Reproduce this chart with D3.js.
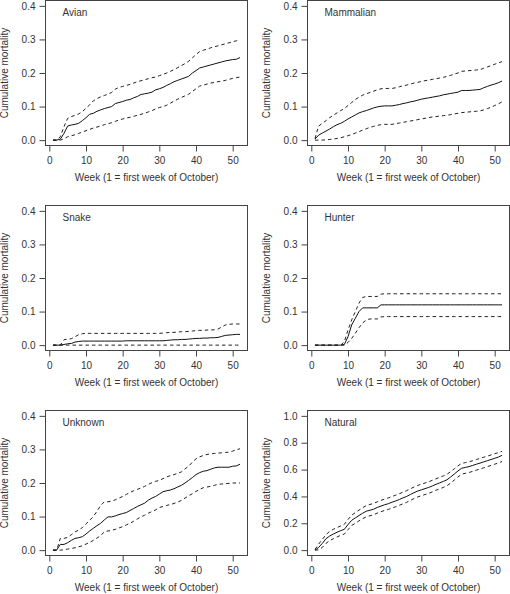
<!DOCTYPE html>
<html><head><meta charset="utf-8">
<script src="https://cdn.jsdelivr.net/npm/d3@7"></script>
<style>body{margin:0;background:#fff}svg{display:block}</style>
</head><body><svg id="c" width="510" height="594"></svg>
<script>
const weeks = d3.range(1, 53);
const xTicks = [0, 10, 20, 30, 40, 50];
const yTicksSmall = [0, 0.1, 0.2, 0.3, 0.4];
const yTicksNatural = [0, 0.2, 0.4, 0.6, 0.8, 1.0];
const panelNames = ["Avian", "Mammalian", "Snake", "Hunter", "Unknown", "Natural"];
const xTitle = "Week (1 = first week of October)";
const yTitle = "Cumulative mortality";

const avianEst = [0,0,0.003,0.02,0.042,0.045,0.047,0.05,0.058,0.067,0.077,0.08,0.086,0.09,0.094,0.097,0.1,0.109,0.112,0.115,0.119,0.121,0.126,0.13,0.136,0.138,0.14,0.143,0.15,0.153,0.157,0.163,0.168,0.174,0.178,0.182,0.186,0.19,0.2,0.207,0.215,0.218,0.221,0.224,0.227,0.23,0.233,0.236,0.238,0.24,0.241,0.246];
const avianHi = [0,0,0.01,0.04,0.065,0.07,0.074,0.078,0.085,0.095,0.105,0.117,0.124,0.129,0.133,0.137,0.142,0.152,0.157,0.16,0.163,0.166,0.17,0.174,0.177,0.18,0.183,0.186,0.188,0.192,0.196,0.2,0.205,0.21,0.216,0.222,0.228,0.235,0.245,0.255,0.264,0.268,0.271,0.275,0.278,0.281,0.284,0.287,0.29,0.293,0.296,0.299];
const avianLo = [0,0,0,0.004,0.01,0.013,0.016,0.02,0.024,0.028,0.032,0.036,0.039,0.042,0.046,0.049,0.052,0.056,0.06,0.063,0.066,0.068,0.071,0.074,0.077,0.08,0.084,0.088,0.093,0.097,0.1,0.104,0.11,0.116,0.122,0.127,0.132,0.137,0.145,0.153,0.161,0.164,0.167,0.17,0.172,0.174,0.176,0.178,0.181,0.184,0.186,0.188];

const mammalEst = [0.003,0.015,0.021,0.027,0.033,0.04,0.046,0.05,0.056,0.063,0.069,0.075,0.081,0.085,0.088,0.092,0.096,0.099,0.101,0.102,0.102,0.102,0.104,0.106,0.109,0.111,0.114,0.116,0.119,0.122,0.124,0.126,0.128,0.13,0.132,0.135,0.137,0.139,0.141,0.143,0.148,0.148,0.148,0.149,0.15,0.151,0.156,0.16,0.164,0.167,0.171,0.176];
const mammalHi = [0.005,0.042,0.05,0.058,0.067,0.074,0.081,0.088,0.094,0.103,0.112,0.121,0.128,0.134,0.138,0.142,0.146,0.15,0.153,0.154,0.154,0.154,0.156,0.159,0.162,0.164,0.167,0.17,0.172,0.175,0.177,0.179,0.181,0.183,0.185,0.187,0.19,0.193,0.197,0.2,0.205,0.206,0.207,0.208,0.209,0.21,0.214,0.218,0.222,0.226,0.23,0.234];
const mammalLo = [0,0,0,0.001,0.002,0.003,0.005,0.007,0.01,0.013,0.017,0.021,0.025,0.03,0.034,0.038,0.041,0.044,0.046,0.047,0.047,0.047,0.049,0.051,0.053,0.055,0.057,0.059,0.061,0.063,0.065,0.067,0.069,0.07,0.072,0.073,0.074,0.076,0.078,0.08,0.082,0.083,0.084,0.085,0.086,0.087,0.09,0.094,0.098,0.103,0.108,0.114];

const snakeEst = [0,0,0,0.002,0.004,0.005,0.009,0.011,0.012,0.012,0.012,0.012,0.012,0.012,0.012,0.012,0.012,0.012,0.012,0.012,0.013,0.013,0.013,0.013,0.013,0.013,0.013,0.013,0.013,0.013,0.013,0.014,0.015,0.016,0.016,0.017,0.017,0.018,0.019,0.02,0.02,0.021,0.021,0.022,0.022,0.023,0.026,0.029,0.03,0.031,0.032,0.032];
const snakeHi = [0,0,0,0.016,0.018,0.019,0.025,0.031,0.034,0.035,0.035,0.035,0.035,0.035,0.035,0.035,0.035,0.035,0.035,0.035,0.035,0.035,0.035,0.035,0.035,0.035,0.035,0.035,0.035,0.035,0.036,0.037,0.038,0.038,0.039,0.04,0.04,0.041,0.042,0.043,0.044,0.044,0.045,0.045,0.046,0.048,0.054,0.06,0.062,0.063,0.063,0.063];
const snakeLo = [0,0,0,0,0,0,0,0,0,0,0,0,0,0,0,0,0,0,0,0,0,0,0,0,0,0,0,0,0,0,0,0,0,0,0,0,0,0,0,0,0,0,0,0,0,0,0,0,0,0,0,0];

const hunterEst = [0,0,0,0,0,0,0,0,0.002,0.025,0.06,0.08,0.1,0.111,0.111,0.111,0.111,0.111,0.12,0.12,0.12,0.12,0.12,0.12,0.12,0.12,0.12,0.12,0.12,0.12,0.12,0.12,0.12,0.12,0.12,0.12,0.12,0.12,0.12,0.12,0.12,0.12,0.12,0.12,0.12,0.12,0.12,0.12,0.12,0.12,0.12,0.12];
const hunterHi = [0,0,0,0,0,0,0,0,0.01,0.045,0.075,0.1,0.125,0.142,0.145,0.145,0.145,0.145,0.152,0.153,0.153,0.153,0.153,0.153,0.153,0.153,0.153,0.153,0.153,0.153,0.153,0.153,0.153,0.153,0.153,0.153,0.153,0.153,0.153,0.153,0.153,0.153,0.153,0.153,0.153,0.153,0.153,0.153,0.153,0.153,0.153,0.153];
const hunterLo = [0,0,0,0,0,0,0,0,0,0.008,0.02,0.035,0.052,0.066,0.075,0.078,0.078,0.078,0.084,0.085,0.085,0.085,0.085,0.085,0.085,0.085,0.085,0.085,0.085,0.085,0.085,0.085,0.085,0.085,0.085,0.085,0.085,0.085,0.085,0.085,0.085,0.085,0.085,0.085,0.085,0.085,0.085,0.085,0.085,0.085,0.085,0.085];

const unknownEst = [0,0,0.017,0.017,0.022,0.029,0.035,0.037,0.04,0.048,0.057,0.065,0.073,0.08,0.09,0.099,0.099,0.102,0.106,0.109,0.112,0.118,0.124,0.13,0.135,0.14,0.149,0.155,0.16,0.167,0.174,0.177,0.179,0.183,0.188,0.193,0.2,0.208,0.216,0.225,0.231,0.235,0.237,0.241,0.245,0.247,0.247,0.247,0.247,0.25,0.251,0.256];
const unknownHi = [0,0,0.035,0.035,0.038,0.046,0.054,0.06,0.067,0.078,0.089,0.1,0.116,0.133,0.144,0.144,0.146,0.15,0.155,0.16,0.166,0.172,0.177,0.181,0.185,0.19,0.196,0.201,0.205,0.208,0.213,0.218,0.222,0.225,0.229,0.233,0.242,0.25,0.262,0.272,0.278,0.282,0.285,0.287,0.288,0.289,0.29,0.291,0.292,0.295,0.299,0.302];
const unknownLo = [0,0,0,0.001,0.003,0.005,0.007,0.01,0.013,0.018,0.023,0.029,0.036,0.043,0.055,0.057,0.059,0.062,0.066,0.07,0.075,0.08,0.086,0.093,0.099,0.104,0.11,0.115,0.12,0.127,0.13,0.133,0.136,0.139,0.143,0.148,0.155,0.162,0.168,0.175,0.181,0.186,0.188,0.19,0.193,0.196,0.197,0.198,0.199,0.2,0.2,0.2];

const naturalEst = [0,0.02,0.05,0.085,0.105,0.12,0.133,0.145,0.155,0.19,0.222,0.24,0.258,0.275,0.29,0.297,0.305,0.318,0.328,0.338,0.346,0.357,0.366,0.377,0.389,0.4,0.414,0.428,0.44,0.449,0.458,0.467,0.478,0.49,0.501,0.512,0.524,0.545,0.567,0.59,0.61,0.616,0.622,0.631,0.64,0.648,0.657,0.666,0.675,0.684,0.693,0.706];
const naturalHi = [0.005,0.045,0.08,0.115,0.14,0.155,0.168,0.18,0.192,0.228,0.26,0.28,0.298,0.316,0.332,0.34,0.348,0.36,0.371,0.38,0.389,0.4,0.409,0.42,0.432,0.443,0.457,0.47,0.482,0.491,0.5,0.509,0.52,0.531,0.542,0.553,0.565,0.585,0.606,0.628,0.646,0.652,0.658,0.666,0.675,0.683,0.692,0.7,0.709,0.718,0.726,0.736];
const naturalLo = [0,0.002,0.02,0.05,0.07,0.085,0.098,0.11,0.12,0.152,0.184,0.2,0.218,0.234,0.248,0.256,0.264,0.276,0.286,0.296,0.303,0.314,0.323,0.334,0.345,0.356,0.37,0.384,0.396,0.405,0.414,0.423,0.434,0.446,0.457,0.467,0.48,0.5,0.522,0.545,0.566,0.572,0.578,0.587,0.596,0.604,0.613,0.622,0.631,0.64,0.649,0.66];

const panels = [
  {name: panelNames[0], est: avianEst,   lo: avianLo,   hi: avianHi,   ticks: yTicksSmall},
  {name: panelNames[1], est: mammalEst,  lo: mammalLo,  hi: mammalHi,  ticks: yTicksSmall},
  {name: panelNames[2], est: snakeEst,   lo: snakeLo,   hi: snakeHi,   ticks: yTicksSmall},
  {name: panelNames[3], est: hunterEst,  lo: hunterLo,  hi: hunterHi,  ticks: yTicksSmall},
  {name: panelNames[4], est: unknownEst, lo: unknownLo, hi: unknownHi, ticks: yTicksSmall},
  {name: panelNames[5], est: naturalEst, lo: naturalLo, hi: naturalHi, ticks: yTicksNatural}
];

const svg = d3.select("#c");
const FONT = "'Liberation Sans', Arial, Helvetica, sans-serif";
const TXT = "#333", AX = "#444";
const colLeft = [45.5, 307.5], rowTop = [0.5, 205.5, 410.5];
const W = 202, H = 145;
const fmt = d3.format(".1f");

panels.forEach((p, i) => {
  const left = colLeft[i % 2], top = rowTop[Math.floor(i / 2)];
  const xr = 52 - 1, yMax = d3.max(p.ticks);
  const x = d3.scaleLinear().domain([1 - 0.04 * xr, 52 + 0.04 * xr]).range([left, left + W]);
  const y = d3.scaleLinear().domain([-0.04 * yMax, yMax * 1.04]).range([top + H, top]);
  const g = svg.append("g");

  const line = d3.line().x((d, k) => x(weeks[k])).y(d => y(d));
  g.append("path").datum(p.hi).attr("d", line).attr("fill", "none")
    .attr("stroke", "#222").attr("stroke-width", 1).attr("stroke-dasharray", "3.5,3");
  g.append("path").datum(p.lo).attr("d", line).attr("fill", "none")
    .attr("stroke", "#222").attr("stroke-width", 1).attr("stroke-dasharray", "3.5,3");
  g.append("path").datum(p.est).attr("d", line).attr("fill", "none")
    .attr("stroke", "#111").attr("stroke-width", 1);

  g.append("rect").attr("x", left).attr("y", top).attr("width", W).attr("height", H)
    .attr("fill", "none").attr("stroke", AX).attr("stroke-width", 1);

  const xa = g.append("g").attr("transform", `translate(0,${top + H})`)
    .call(d3.axisBottom(x).tickValues(xTicks).tickSize(6).tickPadding(5).tickSizeOuter(0).tickFormat(d3.format("d")));
  const ya = g.append("g").attr("transform", `translate(${left},0)`)
    .call(d3.axisLeft(y).tickValues(p.ticks).tickSize(6).tickPadding(4).tickSizeOuter(0).tickFormat(fmt));
  [xa, ya].forEach(a => {
    a.select(".domain").remove();
    a.selectAll("line").attr("stroke", AX);
    a.selectAll("text").attr("fill", TXT).style("font-family", FONT).style("font-size", "10px");
  });

  g.append("text").attr("x", left + W / 2).attr("y", top + H + 35.5)
    .attr("text-anchor", "middle").attr("fill", TXT)
    .style("font-family", FONT).style("font-size", "10px").text(xTitle);

  g.append("text").attr("transform", `translate(${left - 41},${top + H / 2}) rotate(-90)`)
    .attr("dy", "0.35em").attr("text-anchor", "middle").attr("fill", TXT)
    .style("font-family", FONT).style("font-size", "10px").text(yTitle);

  g.append("text").attr("x", left + 17).attr("y", top + 15.5).attr("fill", TXT)
    .style("font-family", FONT).style("font-size", "10px").text(p.name);
});
</script></body></html>
